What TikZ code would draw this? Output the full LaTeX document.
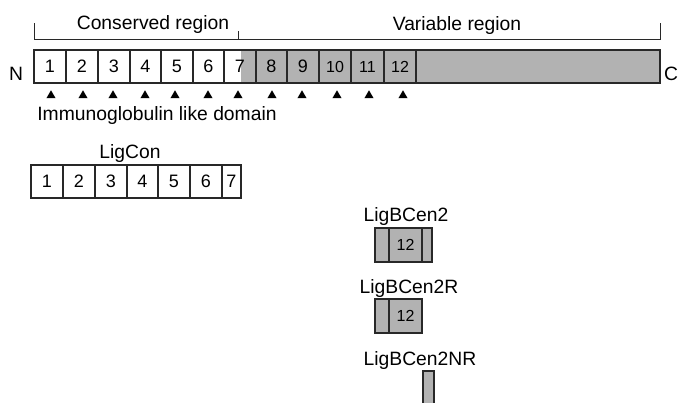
\documentclass[tikz,border=0pt]{standalone}
\usepackage{fontspec}
\setmainfont{Liberation Sans}
\usetikzlibrary{shapes.geometric}
\definecolor{boxgray}{RGB}{178,178,178}
\definecolor{ink}{RGB}{40,40,40}
\begin{document}
\begin{tikzpicture}[x=1pt,y=-1pt,
  seg/.style={draw=ink, line width=1.2pt, rectangle, inner sep=0pt, minimum height=33pt, font=\fontsize{18}{18}\selectfont},
  gseg/.style={seg, fill=boxgray},
  small/.style={font=\fontsize{16}{16}\selectfont},
  lbl/.style={font=\fontsize{19.3}{19.3}\selectfont, anchor=base, inner sep=0pt},
  tri/.style={regular polygon, regular polygon sides=3, minimum size=10.5pt, inner sep=0pt, fill=black},
  brk/.style={draw=ink, line width=0.9pt}
]
\useasboundingbox (0,0) rectangle (679,402);

% region labels and bracket
\node[lbl] (cons) at (153,29) {Conserved region};
\node[lbl] (var) at (457,30) {Variable region};
\coordinate (bl) at (34,23);
\coordinate (br) at (660,23);
\coordinate (bm) at (238,31);
\draw[brk] (bl) -- (34,39) -- (660,39) -- (br);
\draw[brk] (bm) -- (238,39);

% N and C
\node[lbl] (N) at (16,80) {N};
\node[lbl] (C) at (671,80) {C};

% main bar
\fill[boxgray] (241,50) rectangle (256,83);
\node[seg, minimum width=32pt] (b1) at (50,66.5) {1};
\node[seg, minimum width=32pt] (b2) at (82,66.5) {2};
\node[seg, minimum width=32pt] (b3) at (114,66.5) {3};
\node[seg, minimum width=31pt] (b4) at (145.5,66.5) {4};
\node[seg, minimum width=32pt] (b5) at (177,66.5) {5};
\node[seg, minimum width=31pt] (b6) at (208.5,66.5) {6};
\node[seg, minimum width=32pt] (b7) at (240,66.5) {7};
\node[gseg, minimum width=31pt] (b8) at (271.5,66.5) {8};
\node[gseg, minimum width=32pt] (b9) at (303,66.5) {9};
\node[gseg, small, minimum width=32pt] (b10) at (335,66.5) {10};
\node[gseg, small, minimum width=33pt] (b11) at (367.5,66.5) {11};
\node[gseg, small, minimum width=32pt] (b12) at (400,66.5) {12};
\node[gseg, minimum width=244pt] (rest) at (538,66.5) {};

% immunoglobulin-like domain markers
\foreach \k/\x in {1/51,2/83,3/113,4/145,5/175,6/208,7/238,8/272,9/302,10/337,11/369,12/403}
  \node[tri] (t\k) at (\x,95.5) {};
\node[lbl] (ig) at (157,120) {Immunoglobulin like domain};

% LigCon
\node[lbl] (ligcon) at (130,158) {LigCon};
\node[seg, minimum width=32pt] (c1) at (47,181.5) {1};
\node[seg, minimum width=32pt] (c2) at (79,181.5) {2};
\node[seg, minimum width=32pt] (c3) at (111,181.5) {3};
\node[seg, minimum width=31pt] (c4) at (142.5,181.5) {4};
\node[seg, minimum width=32pt] (c5) at (174,181.5) {5};
\node[seg, minimum width=32pt] (c6) at (206,181.5) {6};
\node[seg, minimum width=19pt] (c7) at (231.5,181.5) {7};

% LigBCen2
\node[lbl] (lb2) at (406,221) {LigBCen2};
\node[gseg, minimum width=14pt, minimum height=34pt] (p1) at (382,245) {};
\node[gseg, small, minimum width=33pt, minimum height=34pt] (p2) at (405.5,245) {12};
\node[gseg, minimum width=10pt, minimum height=34pt] (p3) at (427,245) {};

% LigBCen2R
\node[lbl] (lb2r) at (409,293) {LigBCen2R};
\node[gseg, minimum width=14pt, minimum height=34pt] (r1) at (382,316) {};
\node[gseg, small, minimum width=33pt, minimum height=34pt] (r2) at (405.5,316) {12};

% LigBCen2NR
\node[lbl] (lb2nr) at (420,365) {LigBCen2NR};
\begin{scope}
\clip (0,0) rectangle (679,402);
\node[gseg, minimum width=11pt, minimum height=40pt] (nr) at (428.5,391) {};
\end{scope}
\end{tikzpicture}
\end{document}
